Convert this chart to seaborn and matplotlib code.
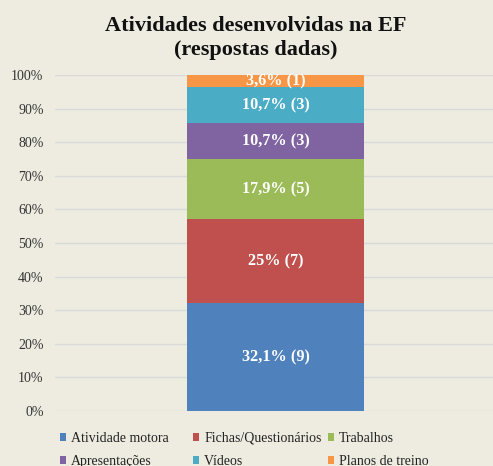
import numpy as np
import pandas as pd
import matplotlib
matplotlib.use("Agg")
import matplotlib.pyplot as plt
from matplotlib.patches import Patch
import seaborn as sns

# Activities reported in Physical Education (number of answers)
categorias = ["Atividade motora", "Fichas/Questionários", "Trabalhos",
              "Apresentações", "Vídeos", "Planos de treino"]
respostas = [9, 7, 5, 3, 3, 1]
cores = ["#4F81BD", "#C0504D", "#9BBB59", "#8064A2", "#4BACC6", "#F79646"]
ticks_y = [0, 10, 20, 30, 40, 50, 60, 70, 80, 90, 100]
titulo = ["Atividades desenvolvidas na EF", "(respostas dadas)"]

sns.set_theme(style="white")
plt.rcParams["font.family"] = ["Liberation Serif", "DejaVu Serif"]

fundo = "#EEECE1"
W, H = 493, 466
fig = plt.figure(figsize=(W / 100, H / 100), dpi=100, facecolor=fundo)
ax = fig.add_axes([54.7 / W, 55 / H, 441.6 / W, 336 / H], facecolor=fundo)

total = sum(respostas)
perc = [100 * r / total for r in respostas]
topo = np.cumsum(perc)
base = topo - np.array(perc)

df = pd.DataFrame({"grupo": [""] * len(categorias), "categoria": categorias,
                   "perc": perc, "topo": topo, "base": base})

# Stacked bar: draw cumulative totals from the top down so each layer overlaps
for i in range(len(categorias) - 1, -1, -1):
    sns.barplot(data=df.iloc[[i]], x="grupo", y="topo", color=cores[i],
                width=0.4, saturation=1, ax=ax, zorder=3, linewidth=0)

for i, row in df.iterrows():
    txt = f"{row.perc:.1f}".rstrip("0").rstrip(".").replace(".", ",")
    ax.text(0, row.base + row.perc / 2, f"{txt}% ({respostas[i]})",
            ha="center", va="center", color="white", fontsize=11.7,
            fontweight="bold", zorder=4)

ax.set_xlim(-0.5, 0.5)
ax.set_ylim(0, 100)
ax.set_yticks(ticks_y)
ax.set_yticklabels([f"{t}%" for t in ticks_y], fontsize=10, color="#333333")
ax.tick_params(axis="y", length=0, pad=8)
ax.set_xticks([])
ax.set_xlabel("")
ax.set_ylabel("")
ax.yaxis.grid(True, color="#D9D9D9", linewidth=1, zorder=0)
ax.set_axisbelow(True)
for s in ax.spines.values():
    s.set_visible(False)

for k, (linha, base_y) in enumerate(zip(titulo, [31, 55])):
    fig.text(255.5 / W, 1 - base_y / H, linha, ha="center", va="baseline",
             fontsize=16, fontweight="bold", color="#111111")

# Legend laid out in three evenly spaced columns
handles = [Patch(facecolor=c, edgecolor="none") for c in cores]
col_x = [60, 193, 328]
for j, x0 in enumerate(col_x):
    idx = [j, j + 3]
    fig.legend([handles[k] for k in idx], [categorias[k] for k in idx],
               loc="upper left", bbox_to_anchor=(x0 / W, 1 - 432 / H),
               frameon=False, fontsize=10, handlelength=0.45, handleheight=0.45,
               handletextpad=0.35, labelspacing=0.7, borderpad=0,
               borderaxespad=0, labelcolor="#222222")

fig.savefig("out.png", dpi=100, facecolor=fundo)
